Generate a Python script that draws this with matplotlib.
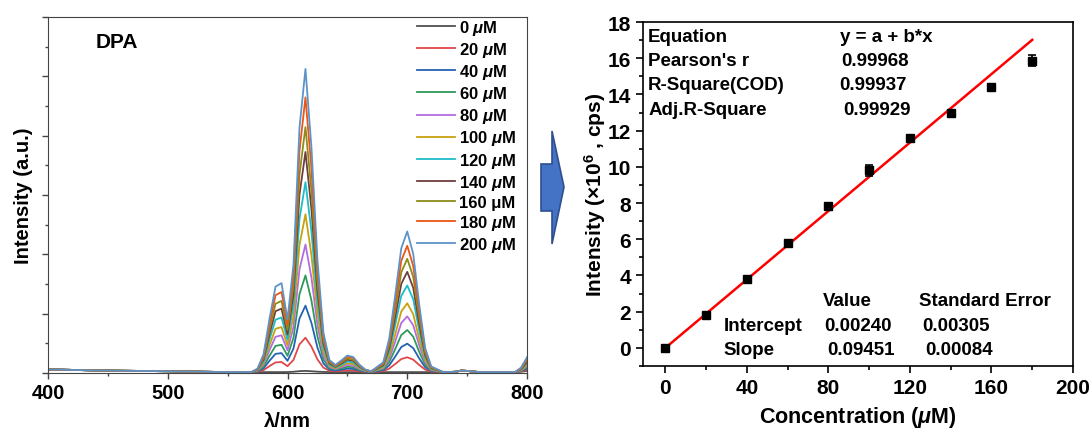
import matplotlib
matplotlib.use("Agg")
import matplotlib.pyplot as plt
import numpy as np
from matplotlib.patches import Polygon
from matplotlib.ticker import MultipleLocator

plt.rcParams["font.family"] = ["Liberation Sans", "DejaVu Sans"]
plt.rcParams["font.weight"] = "bold"
plt.rcParams["axes.labelweight"] = "bold"
plt.rcParams["mathtext.fontset"] = "custom"
plt.rcParams["mathtext.rm"] = "Liberation Sans:bold"
plt.rcParams["mathtext.it"] = "Liberation Sans:italic:bold"
plt.rcParams["mathtext.bf"] = "Liberation Sans:bold"

# ---- left panel: emission spectra (arbitrary units) ----
wavelength = [400, 450, 500, 550, 570, 575, 580, 585, 590, 595,
              600, 605, 610, 615, 620, 625, 630, 635, 640, 645,
              650, 655, 660, 665, 670, 680, 685, 690, 695, 700,
              705, 710, 715, 720, 730, 740, 745, 750, 760, 790,
              795, 800]
baseline = [0.06, 0.04, 0.03, 0.015, 0.015, 0.015, 0.015, 0.015, 0.015, 0.015,
            0.015, 0.015, 0.015, 0.015, 0.015, 0.015, 0.015, 0.015, 0.015, 0.015,
            0.015, 0.015, 0.015, 0.015, 0.015, 0.015, 0.015, 0.015, 0.015, 0.015,
            0.015, 0.015, 0.015, 0.015, 0.015, 0.02, 0.04, 0.035, 0.015, 0.015,
            0.015, 0.015]
band_592 = [0, 0, 0, 0, 0, 0.04, 0.2, 0.6, 0.96, 1.0,
            0.42, 0.12, 0.02, 0, 0, 0, 0, 0, 0, 0,
            0, 0, 0, 0, 0, 0, 0, 0, 0, 0,
            0, 0, 0, 0, 0, 0, 0, 0, 0, 0,
            0, 0]
band_615 = [0, 0, 0, 0, 0, 0, 0, 0, 0, 0,
            0.05, 0.32, 0.8, 1.0, 0.74, 0.37, 0.13, 0.04, 0.01, 0,
            0, 0, 0, 0, 0, 0, 0, 0, 0, 0,
            0, 0, 0, 0, 0, 0, 0, 0, 0, 0,
            0, 0]
band_650 = [0, 0, 0, 0, 0, 0, 0, 0, 0, 0,
            0, 0, 0, 0, 0, 0, 0, 0, 0.25, 0.7,
            1.0, 0.9, 0.45, 0.15, 0.05, 0, 0, 0, 0, 0,
            0, 0, 0, 0, 0, 0, 0, 0, 0, 0,
            0, 0]
band_700 = [0, 0, 0, 0, 0, 0, 0, 0, 0, 0,
            0, 0, 0, 0, 0, 0, 0, 0, 0, 0,
            0, 0, 0, 0, 0, 0.07, 0.24, 0.55, 0.88, 1.0,
            0.84, 0.48, 0.17, 0.04, 0, 0, 0, 0, 0, 0,
            0, 0]
band_edge = [0, 0, 0, 0, 0, 0, 0, 0, 0, 0,
             0, 0, 0, 0, 0, 0, 0, 0, 0, 0,
             0, 0, 0, 0, 0, 0, 0, 0, 0, 0,
             0, 0, 0, 0, 0, 0, 0, 0, 0, 0,
             0.3, 1.0]

spec_conc = [0, 20, 40, 60, 80, 100, 120, 140, 160, 180, 200]
spec_labels = ["0 $\\mu$M", "20 $\\mu$M", "40 $\\mu$M", "60 $\\mu$M", "80 $\\mu$M",
               "100 $\\mu$M", "120 $\\mu$M", "140 $\\mu$M", "160 \u03bcM",
               "180 $\\mu$M", "200 $\\mu$M"]
h_592 = [0.0, 0.17, 0.32, 0.46, 0.62, 0.76, 0.92, 1.07, 1.20, 1.35, 1.50]
h_615 = [0.02, 0.58, 1.12, 1.63, 2.15, 2.66, 3.20, 3.71, 4.13, 4.63, 5.11]
h_650 = [0.0, 0.03, 0.06, 0.09, 0.12, 0.15, 0.18, 0.21, 0.23, 0.26, 0.28]
h_700 = [0.0, 0.25, 0.48, 0.71, 0.94, 1.16, 1.46, 1.69, 1.91, 2.13, 2.37]
h_edge = [0.02, 0.04, 0.06, 0.08, 0.10, 0.12, 0.15, 0.17, 0.20, 0.22, 0.25]
spec_colors = ["#505050", "#E04848", "#2462B4", "#2E9A5A", "#B46CE0", "#C8A010",
               "#1CBCC8", "#6E3E3E", "#8C8C1C", "#EE5414", "#5C94C8"]

# ---- right panel: calibration ----
conc = [0, 20, 40, 60, 80, 100, 120, 140, 160, 180]
intensity = [0.0, 1.82, 3.78, 5.78, 7.82, 9.82, 11.58, 12.97, 14.42, 15.85]
intensity_err = [0.1, 0.1, 0.15, 0.2, 0.12, 0.3, 0.15, 0.1, 0.15, 0.3]
fit_a = 0.00240
fit_b = 0.09451

fig = plt.figure(figsize=(10.91, 4.31), dpi=100)

# left
ax1 = fig.add_axes([48 / 1091, 1 - 374 / 431, 479 / 1091, 356 / 431])
wl = np.array(wavelength)
for i, c in enumerate(spec_conc):
    y = (np.array(baseline) + h_592[i] * np.array(band_592) + h_615[i] * np.array(band_615)
         + h_650[i] * np.array(band_650) + h_700[i] * np.array(band_700)
         + h_edge[i] * np.array(band_edge))
    ax1.plot(wl, y, color=spec_colors[i], lw=1.3, label=spec_labels[i])
ax1.set_xlim(400, 800)
ax1.set_ylim(0, 6)
ax1.xaxis.set_major_locator(MultipleLocator(100))
ax1.xaxis.set_minor_locator(MultipleLocator(50))
ax1.yaxis.set_major_locator(MultipleLocator(1))
ax1.yaxis.set_minor_locator(MultipleLocator(0.5))
ax1.set_yticklabels([])
ax1.tick_params(axis="both", which="major", direction="out", length=4, width=1,
                color="#444444", labelsize=14.5)
ax1.tick_params(axis="both", which="minor", direction="out", length=2.5, width=1,
                color="#444444")
for s in ax1.spines.values():
    s.set_color("#444444")
ax1.set_xlabel("\u03bb/nm", fontsize=14.5, labelpad=6)
ax1.set_ylabel("Intensity (a.u.)", fontsize=14.5, labelpad=3)
ax1.text(0.10, 0.93, "DPA", transform=ax1.transAxes, fontsize=15,
         ha="left", va="center")
ax1.legend(loc="upper left", bbox_to_anchor=(0.77, 0.997), frameon=False,
           fontsize=12, handlelength=2.3, handletextpad=0.25,
           labelspacing=0.185, borderpad=0, borderaxespad=0)

# arrow
pts = [(541, 165), (552, 165), (552, 132), (564, 188), (552, 245), (552, 212), (541, 212)]
arrow = Polygon([(x / 1091, 1 - y / 431) for x, y in pts], closed=True,
                transform=fig.transFigure, facecolor="#4472C4",
                edgecolor="#2F4F8F", lw=1.2)
fig.patches.append(arrow)

# right
ax2 = fig.add_axes([643 / 1091, 1 - 367 / 431, 430 / 1091, 344 / 431])
xfit = np.array([0, conc[-1]])
ax2.plot(xfit, fit_a + fit_b * xfit, color="red", lw=1.8, zorder=2)
ax2.errorbar(conc, intensity, yerr=intensity_err, fmt="s", color="black",
             ms=6, capsize=3, elinewidth=1.2, capthick=1.2, zorder=3)
ax2.set_xlim(-11, 200)
ax2.set_ylim(-1, 18)
ax2.xaxis.set_major_locator(MultipleLocator(40))
ax2.xaxis.set_minor_locator(MultipleLocator(20))
ax2.yaxis.set_major_locator(MultipleLocator(2))
ax2.yaxis.set_minor_locator(MultipleLocator(1))
ax2.tick_params(axis="both", which="major", direction="out", length=5, width=1.2,
                labelsize=15)
ax2.tick_params(axis="both", which="minor", direction="out", length=3, width=1.2)
for s in ax2.spines.values():
    s.set_linewidth(1.2)
ax2.set_xlabel("Concentration ($\\mu$M)", fontsize=15.5, labelpad=5)
ax2.set_ylabel("Intensity (\u00d710$^{6}$ , cps)", fontsize=15, labelpad=0)

tkw = dict(transform=ax2.transAxes, fontsize=13.5, va="center", ha="left")
ax2.text(0.012, 0.959, "Equation", **tkw)
ax2.text(0.457, 0.959, "y = a + b*x", **tkw)
ax2.text(0.012, 0.887, "Pearson's r", **tkw)
ax2.text(0.460, 0.887, "0.99968", **tkw)
ax2.text(0.012, 0.817, "R-Square(COD)", **tkw)
ax2.text(0.457, 0.817, "0.99937", **tkw)
ax2.text(0.012, 0.747, "Adj.R-Square", **tkw)
ax2.text(0.465, 0.747, "0.99929", **tkw)
ax2.text(0.418, 0.189, "Value", **tkw)
ax2.text(0.642, 0.189, "Standard Error", **tkw)
ax2.text(0.188, 0.119, "Intercept", **tkw)
ax2.text(0.421, 0.119, "0.00240", **tkw)
ax2.text(0.649, 0.119, "0.00305", **tkw)
ax2.text(0.188, 0.047, "Slope", **tkw)
ax2.text(0.428, 0.047, "0.09451", **tkw)
ax2.text(0.656, 0.047, "0.00084", **tkw)

fig.savefig("out.png", dpi=100)
